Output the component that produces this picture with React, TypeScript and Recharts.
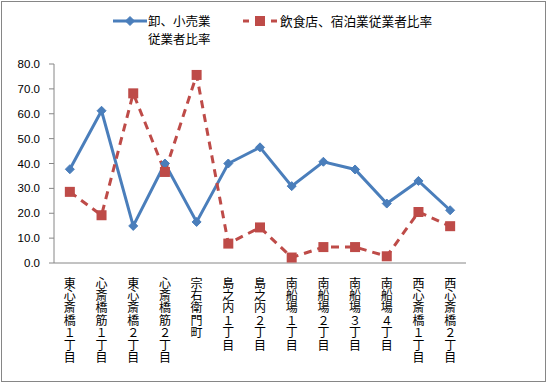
import { LineChart, Line, XAxis, YAxis } from 'recharts';

const areas = [
  '東心斎橋１丁目',
  '心斎橋筋１丁目',
  '東心斎橋２丁目',
  '心斎橋筋２丁目',
  '宗右衛門町',
  '島之内１丁目',
  '島之内２丁目',
  '南船場１丁目',
  '南船場２丁目',
  '南船場３丁目',
  '南船場４丁目',
  '西心斎橋１丁目',
  '西心斎橋２丁目',
];

const retailShare = [37.7, 61.2, 14.9, 40.0, 16.5, 40.0, 46.5, 30.9, 40.7, 37.6, 23.9, 33.0, 21.2];
const foodLodgingShare = [28.6, 19.2, 68.2, 36.6, 75.6, 7.8, 14.3, 2.2, 6.4, 6.4, 2.7, 20.5, 14.8];

const yTicks = [0, 10, 20, 30, 40, 50, 60, 70, 80];

const BLUE = '#4A7EBB';
const RED = '#BE4B48';
const JP_FONT = '"Noto Sans CJK JP", sans-serif';

const data = areas.map((name, i) => ({
  name,
  retail: retailShare[i],
  food: foodLodgingShare[i],
}));

interface TickProps {
  x?: number;
  y?: number;
  payload?: { value: string };
}

// 縦書きラベル（writing-mode で縦に組む）
function VerticalTick({ x = 0, y = 0, payload }: TickProps) {
  return (
    <text
      x={x}
      y={y + 12}
      fontSize={12}
      fontFamily={JP_FONT}
      fill="#000"
      style={{ writingMode: 'vertical-rl', textOrientation: 'upright', letterSpacing: 0.4 }}
    >
      {payload?.value}
    </text>
  );
}

interface DotProps {
  cx?: number;
  cy?: number;
  index?: number;
}

function Diamond({ cx = 0, cy = 0, index }: DotProps) {
  const r = 4.5;
  return (
    <polygon
      key={`d-${index}`}
      points={`${cx},${cy - r} ${cx + r},${cy} ${cx},${cy + r} ${cx - r},${cy}`}
      fill={BLUE}
      stroke={BLUE}
      strokeWidth={1}
    />
  );
}

function Square({ cx = 0, cy = 0, index }: DotProps) {
  const s = 10;
  return <rect key={`s-${index}`} x={cx - s / 2} y={cy - s / 2} width={s} height={s} fill={RED} />;
}

function LegendBox() {
  return (
    <svg width={547} height={50} style={{ position: 'absolute', left: 0, top: 0, display: 'block' }}>
      <line x1={113} y1={21} x2={147} y2={21} stroke={BLUE} strokeWidth={3} />
      <Diamond cx={130} cy={21} />
      <text x={148} y={26} fontSize={12.5} fontFamily={JP_FONT} fill="#000">
        卸、小売業
      </text>
      <text x={148} y={43.5} fontSize={12.5} fontFamily={JP_FONT} fill="#000">
        従業者比率
      </text>
      <line x1={243} y1={21} x2={249} y2={21} stroke={RED} strokeWidth={3} />
      <Square cx={260} cy={21} />
      <line x1={271} y1={21} x2={277} y2={21} stroke={RED} strokeWidth={3} />
      <text x={280} y={26} fontSize={12.7} fontFamily={JP_FONT} fill="#000">
        飲食店、宿泊業従業者比率
      </text>
    </svg>
  );
}

export default function App() {
  return (
    <div style={{ position: 'absolute', left: 0, top: 0, width: 547, height: 383, background: '#fff' }}>
      <LineChart
        width={547}
        height={383}
        data={data}
        margin={{ top: 64, right: 81, bottom: 10, left: 0 }}
      >
        <XAxis
          dataKey="name"
          scale="band"
          interval={0}
          height={110}
          tickLine={false}
          tickSize={0}
          axisLine={{ stroke: '#868686', strokeWidth: 1 }}
          tick={<VerticalTick />}
        />
        <YAxis
          domain={[0, 80]}
          ticks={yTicks}
          width={54}
          tickSize={5}
          tickMargin={9}
          tickLine={{ stroke: '#868686' }}
          axisLine={{ stroke: '#868686', strokeWidth: 1 }}
          tick={{ fontSize: 11.5, fill: '#000', fontFamily: '"Liberation Sans", Arial, sans-serif' }}
          tickFormatter={(v: number) => v.toFixed(1)}
        />
        <Line
          dataKey="retail"
          stroke={BLUE}
          strokeWidth={3}
          dot={<Diamond />}
          activeDot={false}
          isAnimationActive={false}
        />
        <Line
          dataKey="food"
          stroke={RED}
          strokeWidth={3}
          strokeDasharray="8 6"
          dot={<Square />}
          activeDot={false}
          isAnimationActive={false}
        />
      </LineChart>
      <LegendBox />
      <div
        style={{
          position: 'absolute',
          left: 1,
          top: 1,
          width: 545,
          height: 381,
          border: '1px solid #868686',
          boxSizing: 'border-box',
          pointerEvents: 'none',
        }}
      />
    </div>
  );
}
